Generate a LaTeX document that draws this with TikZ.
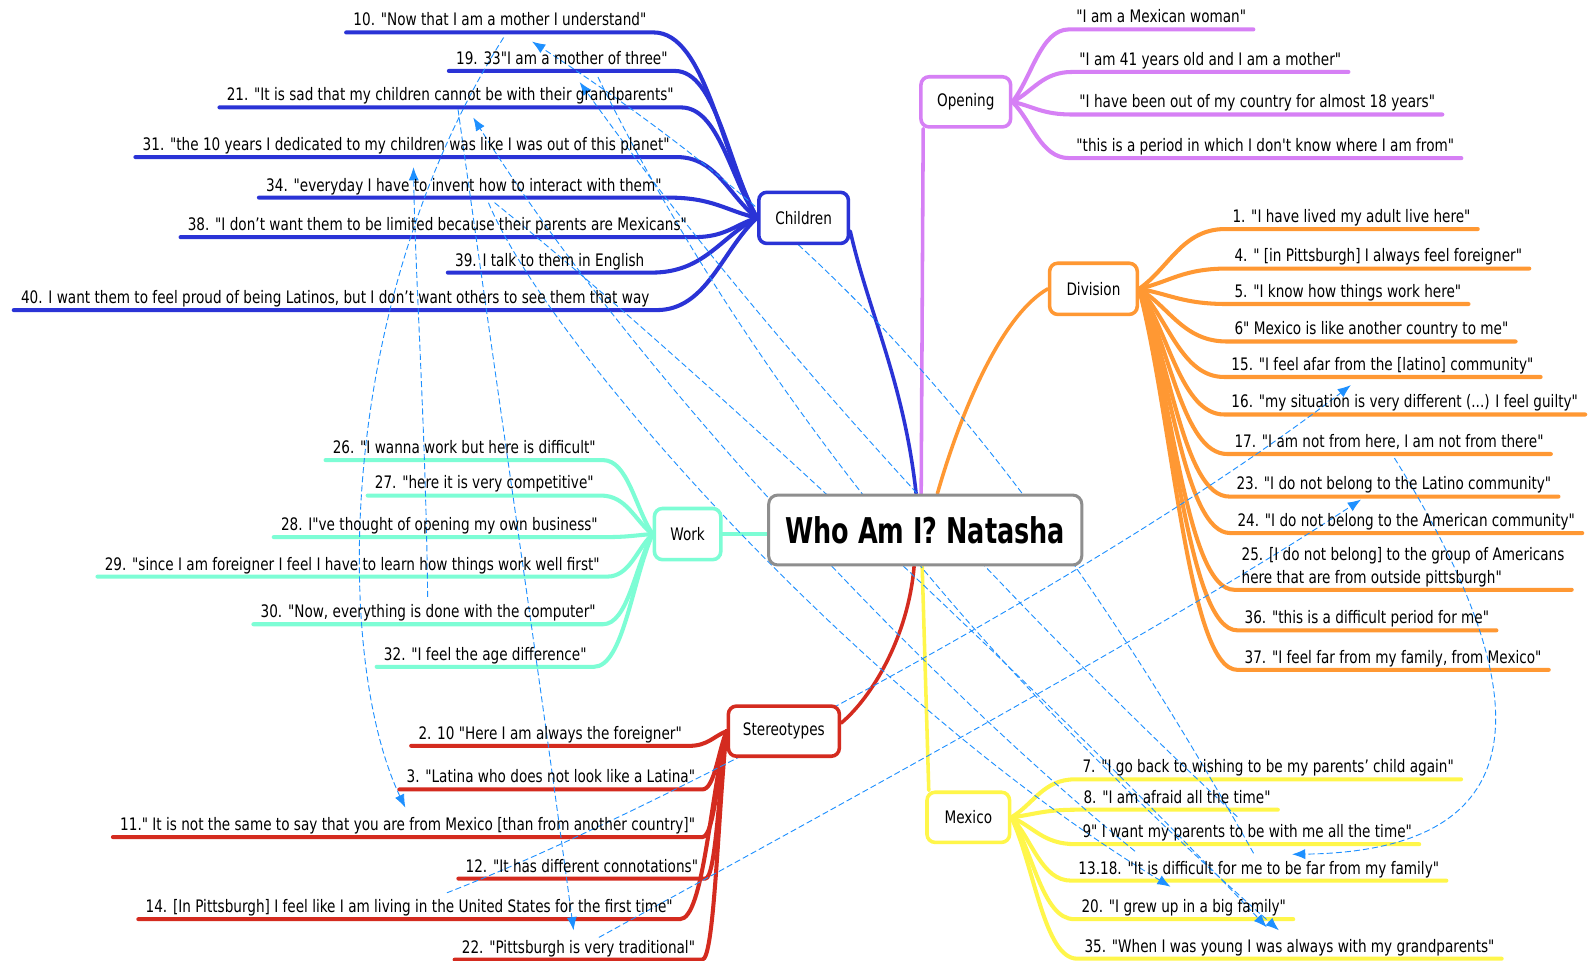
\documentclass[tikz,border=0pt]{standalone}
\usepackage{fontspec}
% straight quotes are kept: \newfontfamily adds no TeX ligature mapping
\newfontfamily\leaffont{DejaVu Sans}[FakeStretch=0.79]
\newfontfamily\titlefont{DejaVu Sans}[FakeStretch=0.72]
\usetikzlibrary{arrows.meta,calc}

\definecolor{cBlue}{HTML}{2A33D6}
\definecolor{cPurple}{HTML}{D680F5}
\definecolor{cOrange}{HTML}{FF9833}
\definecolor{cAqua}{HTML}{7DFDD5}
\definecolor{cRed}{HTML}{D42B1F}
\definecolor{cYellow}{HTML}{FFF64A}
\definecolor{cGray}{HTML}{8E8E8E}
\definecolor{relBlue}{HTML}{1E90FF}

\pgfdeclarelayer{bg}
\pgfdeclarelayer{branches}
\pgfdeclarelayer{relations}
\pgfsetlayers{bg,branches,relations,main}

% leaf on the left of its topic: #1 name, #2 topic, #3 colour,
% #4 right edge of the text, #5 underline height, #6 text
\newcommand\leafL[6]{%
  \node[leaf, anchor=base east] (#1) at (#4+7, #5-6.5) {#6};
  \coordinate (w#1) at ([yshift=-6.5pt]#1.base west);
  \coordinate (e#1) at ([yshift=-6.5pt]#1.base east);
  \begin{pgfonlayer}{branches}
    \draw[branch, #3] (w#1) -- (e#1)
      .. controls ($(e#1)!0.5!(#2.west |- e#1)$) and ($(#2.west)!0.35!(e#1)$) .. (#2.west);
  \end{pgfonlayer}}
% leaf on the right of its topic: #4 left edge of the text
\newcommand\leafR[6]{%
  \node[leaf, anchor=base west] (#1) at (#4-7, #5-6.5) {#6};
  \coordinate (w#1) at ([yshift=-6.5pt]#1.base west);
  \coordinate (e#1) at ([yshift=-6.5pt]#1.base east);
  \begin{pgfonlayer}{branches}
    \draw[branch, #3] (#2.east)
      .. controls ($(#2.east)!0.35!(w#1)$) and ($(w#1)!0.5!(#2.east |- w#1)$) .. (w#1) -- (e#1);
  \end{pgfonlayer}}

\begin{document}
\begin{tikzpicture}[x=1pt, y=-1pt,
  leaf/.style={font=\leaffont\fontsize{17}{22}\selectfont, inner xsep=7pt, inner ysep=0pt, text=black},
  topic/.style={line width=3.5pt, rounded corners=8pt, fill=white, inner sep=0pt,
    font=\leaffont\fontsize{17}{22}\selectfont, text=black},
  branch/.style={line width=4pt, line cap=round, line join=round},
  trunk/.style={line width=3.5pt, line cap=round},
  rel/.style={draw=relBlue, line width=0.9pt, dash pattern=on 6pt off 3pt,
    -{Latex[length=13pt,width=10pt]}}]

\useasboundingbox (0,0) rectangle (1568,948);
\begin{pgfonlayer}{bg}
  \fill[white] (0,0) rectangle (1568,948);
\end{pgfonlayer}

% central topic and main topics
\node[draw=cGray, line width=3pt, rounded corners=9pt, fill=white,
  minimum width=309pt, minimum height=69pt, inner sep=0pt,
  font=\titlefont\bfseries\fontsize{35}{40}\selectfont] (hub) at (913,523) {Who Am I? Natasha};
\node[topic, draw=cBlue,   minimum width=88.5pt,  minimum height=50.5pt] (children) at (793,215) {Children};
\node[topic, draw=cPurple, minimum width=88.5pt,  minimum height=49.5pt] (opening)  at (953,100.5) {Opening};
\node[topic, draw=cOrange, minimum width=86.5pt,  minimum height=50.5pt] (division) at (1079,285) {Division};
\node[topic, draw=cAqua,   minimum width=65.5pt,  minimum height=50.5pt] (work)     at (678.5,527) {Work};
\node[topic, draw=cRed,    minimum width=109.5pt, minimum height=49.5pt] (stereo)   at (773.5,721.5) {Stereotypes};
\node[topic, draw=cYellow, minimum width=81.5pt,  minimum height=49.5pt] (mexico)   at (955.5,806.5) {Mexico};

\begin{pgfonlayer}{branches}
  \draw[trunk, cPurple] ([xshift=-4pt]hub.north) -- ([xshift=-42pt]opening.south);
  \draw[trunk, cBlue] ([xshift=-9pt]hub.north) .. controls +(-12,-110) and +(18,80) .. ([yshift=14pt]children.south east);
  \draw[trunk, cOrange] ([xshift=12pt]hub.north) .. controls (950,400) and (990,310) .. (division.west);
  \draw[trunk, cAqua] (work.east) -- (work.east -| hub.west);
  \draw[trunk, cRed] ([xshift=-11pt]hub.south) .. controls +(-6,70) and +(30,-25) .. ([yshift=8pt]stereo.east);
  \draw[trunk, cYellow] ([xshift=-3pt]hub.south) -- ([xshift=-39pt]mexico.north);
\end{pgfonlayer}

% Children
\leafL{c10}{children}{cBlue}{638}{32}{10. "Now that I am a mother I understand"}
\leafL{c19}{children}{cBlue}{659}{70}{19. 33"I am a mother of three"}
\leafL{c21}{children}{cBlue}{665}{106}{21. "It is sad that my children cannot be with their grandparents"}
\leafL{c31}{children}{cBlue}{661}{155}{31. "the 10 years I dedicated to my children was like I was out of this planet"}
\leafL{c34}{children}{cBlue}{653}{195}{34. "everyday I have to invent how to interact with them"}
\leafL{c38}{children}{cBlue}{678}{234}{38. "I don’t want them to be limited because their parents are Mexicans"}
\leafL{c39}{children}{cBlue}{636}{269}{39. I talk to them in English}
\leafL{c40}{children}{cBlue}{641}{306}{40. I want them to feel proud of being Latinos, but I don’t want others to see them that way}

% Work
\leafL{w26}{work}{cAqua}{588}{454}{26. "I wanna work but here is difficult"}
\leafL{w27}{work}{cAqua}{586}{489}{27. "here it is very competitive"}
\leafL{w28}{work}{cAqua}{590}{530}{28. I"ve thought of opening my own business"}
\leafL{w29}{work}{cAqua}{592}{569}{29. "since I am foreigner I feel I have to learn how things work well first"}
\leafL{w30}{work}{cAqua}{588}{616}{30. "Now, everything is done with the computer"}
\leafL{w32}{work}{cAqua}{579}{658}{32. "I feel the age difference"}

% Stereotypes
\leafL{s2}{stereo}{cRed}{673}{736}{2. 10 "Here I am always the foreigner"}
\leafL{s3}{stereo}{cRed}{686}{779}{3. "Latina who does not look like a Latina"}
\leafL{s11}{stereo}{cRed}{686}{826}{11." It is not the same to say that you are from Mexico [than from another country]"}
\leafL{s12}{stereo}{cRed}{689}{867}{12. "It has different connotations"}
\leafL{s14}{stereo}{cRed}{664}{907}{14. [In Pittsburgh] I feel like I am living in the United States for the first time"}
\leafL{s22}{stereo}{cRed}{686}{947}{22. "Pittsburgh is very traditional"}

% Opening
\leafR{o1}{opening}{cPurple}{1062}{29}{"I am a Mexican woman"}
\leafR{o2}{opening}{cPurple}{1065}{71}{"I am 41 years old and I am a mother"}
\leafR{o3}{opening}{cPurple}{1065}{113}{"I have been out of my country for almost 18 years"}
\leafR{o4}{opening}{cPurple}{1062}{156}{"this is a period in which I don't know where I am from"}

% Division
\leafR{d1}{division}{cOrange}{1216}{226}{1. "I have lived my adult live here"}
\leafR{d4}{division}{cOrange}{1218}{265}{4. " [in Pittsburgh] I always feel foreigner"}
\leafR{d5}{division}{cOrange}{1218}{300}{5. "I know how things work here"}
\leafR{d6}{division}{cOrange}{1218}{337}{6" Mexico is like another country to me"}
\leafR{d15}{division}{cOrange}{1215}{372}{15. "I feel afar from the [latino] community"}
\leafR{d16}{division}{cOrange}{1215}{409}{16. "my situation is very different (...) I feel guilty"}
\leafR{d17}{division}{cOrange}{1218}{448}{17. "I am not from here, I am not from there"}
\leafR{d23}{division}{cOrange}{1220}{490}{23. "I do not belong to the Latino community"}
\leafR{d24}{division}{cOrange}{1221}{526}{24. "I do not belong to the American community"}
\leafR{d25}{division}{cOrange}{1225}{582}{\begin{tabular}[b]{@{}l@{}}25. [I do not belong] to the group of Americans\\here that are from outside pittsburgh"\end{tabular}}
\leafR{d36}{division}{cOrange}{1228}{622}{36. "this is a difficult period for me"}
\leafR{d37}{division}{cOrange}{1228}{661}{37. "I feel far from my family, from Mexico"}

% Mexico
\leafR{m7}{mexico}{cYellow}{1068}{769}{7. "I go back to wishing to be my parents’ child again"}
\leafR{m8}{mexico}{cYellow}{1069}{799}{8. "I am afraid all the time"}
\leafR{m9}{mexico}{cYellow}{1068}{833}{9" I want my parents to be with me all the time"}
\leafR{m13}{mexico}{cYellow}{1064}{869}{13.18. "It is difficult for me to be far from my family"}
\leafR{m20}{mexico}{cYellow}{1067}{907}{20. "I grew up in a big family"}
\leafR{m35}{mexico}{cYellow}{1070}{946}{35. "When I was young I was always with my grandparents"}

% relationship ends
\coordinate (a0) at (497,37);   \coordinate (a1) at (400,797);
\coordinate (b0) at (1376,452); \coordinate (b1) at (1275,843);
\coordinate (k0) at (1237,842); \coordinate (k1) at (525,41);
\coordinate (d0) at (482,200);  \coordinate (d1) at (1155,875);
\coordinate (e0) at (488,200);  \coordinate (e1) at (1250,915);
\coordinate (h0) at (1120,840); \coordinate (h1) at (467,116);
\coordinate (i0) at (1221,806); \coordinate (i1) at (572,81);
\coordinate (j0) at (590,76);   \coordinate (j1) at (1262,918);
\coordinate (f0) at (422,589);  \coordinate (f1) at (408,165);
\coordinate (g0) at (452,108);  \coordinate (g1) at (566,918);
\coordinate (p0) at (441,881);  \coordinate (p1) at (1333,380);
\coordinate (q0) at (591,925);  \coordinate (q1) at (1343,493);

\begin{pgfonlayer}{relations}
  \draw[rel] (a0) .. controls (330,300) and (330,650) .. (a1);
  \draw[rel] (b0) .. controls (1530,700) and (1510,840) .. (b1);
  \draw[rel] (k0) .. controls (1000,420) and (800,220) .. (k1);
  \draw[rel] (d0) .. controls (540,340) and (850,690) .. (d1);
  \draw[rel] (e0) .. controls (650,330) and (1000,650) .. (e1);
  \draw[rel] (h0) .. controls (900,660) and (620,360) .. (h1);
  \draw[rel] (i0) .. controls (1000,600) and (750,330) .. (i1);
  \draw[rel] (j0) .. controls (700,300) and (900,600) .. (j1);
  \draw[rel] (f0) .. controls (420,420) and (410,280) .. (f1);
  \draw[rel] (g0) .. controls (490,380) and (530,650) .. (g1);
  \draw[rel] (p0) .. controls (650,800) and (1100,560) .. (p1);
  \draw[rel] (q0) .. controls (800,810) and (1150,620) .. (q1);
\end{pgfonlayer}

\end{tikzpicture}
\end{document}
